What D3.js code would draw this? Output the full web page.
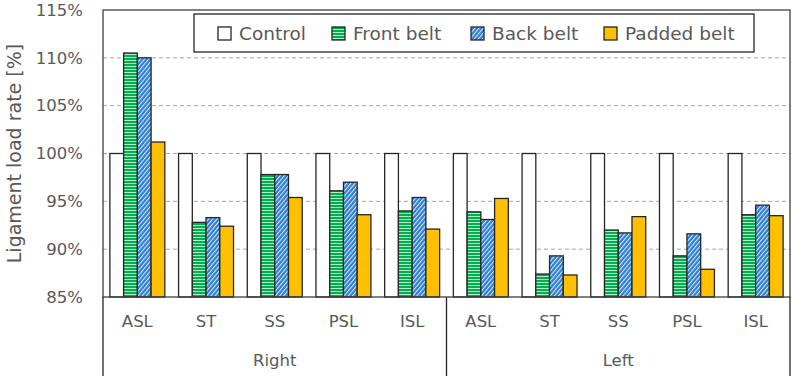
<!DOCTYPE html>
<html>
<head>
<meta charset="utf-8">
<script src="https://cdn.jsdelivr.net/npm/d3@7"></script>
<style>
  body { margin: 0; background: #fff; }
  text { font-family: "DejaVu Sans", sans-serif; fill: #595959; }
</style>
</head>
<body>
<svg id="chart"></svg>
<script>
// data
const sides = ["Right", "Left"];
const ligaments = ["ASL", "ST", "SS", "PSL", "ISL"];
const seriesNames = ["Control", "Front belt", "Back belt", "Padded belt"];
const control    = [100, 100, 100, 100, 100, 100, 100, 100, 100, 100];
const frontBelt  = [110.5, 92.8, 97.8, 96.1, 94.0, 93.9, 87.4, 92.0, 89.3, 93.6];
const backBelt   = [110.0, 93.3, 97.8, 97.0, 95.4, 93.1, 89.3, 91.7, 91.6, 94.6];
const paddedBelt = [101.2, 92.4, 95.4, 93.6, 92.1, 95.3, 87.3, 93.4, 87.9, 93.5];
const yTicks = [85, 90, 95, 100, 105, 110, 115];

const seriesValues = [control, frontBelt, backBelt, paddedBelt];
const groups = [];
sides.forEach(s => ligaments.forEach(l => groups.push({side: s, lig: l, key: s + "-" + l})));
groups.forEach((g, i) => { g.values = seriesValues.map(v => v[i]); });

const fills = ["#ffffff", "url(#pat-front)", "url(#pat-back)", "#FFC000"];

const W = 793, H = 376;
const margin = {top: 10, right: 3, bottom: 79, left: 103};
const width = W - margin.left - margin.right;
const height = H - margin.top - margin.bottom;

const svg = d3.select("#chart").attr("width", W).attr("height", H);

// patterns
const defs = svg.append("defs");
const pf = defs.append("pattern").attr("id", "pat-front")
  .attr("patternUnits", "userSpaceOnUse").attr("width", 6).attr("height", 3);
pf.append("rect").attr("width", 6).attr("height", 3).attr("fill", "#00B050");
pf.append("rect").attr("y", 2).attr("width", 6).attr("height", 1).attr("fill", "#b6ecc6");

const pb = defs.append("pattern").attr("id", "pat-back")
  .attr("patternUnits", "userSpaceOnUse").attr("width", 3.2).attr("height", 10)
  .attr("patternTransform", "rotate(40)");
pb.append("rect").attr("width", 3.2).attr("height", 10).attr("fill", "#2f7fd3");
pb.append("rect").attr("width", 1).attr("height", 10).attr("fill", "#d9ecff");

const chart = svg.append("g").attr("transform", `translate(${margin.left},${margin.top})`);

// scales
const x0 = d3.scaleBand().domain(groups.map(d => d.key)).range([0, width])
  .paddingInner(0.2).paddingOuter(0.1);
const x1 = d3.scaleBand().domain(seriesNames).range([0, x0.bandwidth()]);
const y = d3.scaleLinear().domain([85, 115]).range([height, 0]);

// grid
chart.append("g").selectAll("line")
  .data(yTicks.filter(t => t > 85 && t < 115))
  .join("line")
  .attr("x1", 0).attr("x2", width)
  .attr("y1", d => y(d)).attr("y2", d => y(d))
  .attr("stroke", "#a6a6a6").attr("stroke-width", 1)
  .attr("stroke-dasharray", "4,3");

// y axis labels
const yAxis = d3.axisLeft(y).tickValues(yTicks).tickSize(0).tickPadding(20)
  .tickFormat(d => d + "%");
chart.append("g").call(yAxis)
  .call(g => g.select(".domain").remove())
  .call(g => g.selectAll("text").style("font-size", "16.5px").attr("fill", "#595959")
    .style("font-family", '"DejaVu Sans", sans-serif'));

// bars
const grp = chart.selectAll(".grp").data(groups).join("g")
  .attr("class", "grp")
  .attr("transform", d => `translate(${x0(d.key)},0)`);
grp.selectAll("rect")
  .data(d => d.values.map((v, i) => ({name: seriesNames[i], value: v, i})))
  .join("rect")
  .attr("x", d => x1(d.name))
  .attr("width", x1.bandwidth())
  .attr("y", d => y(d.value))
  .attr("height", d => height - y(d.value))
  .attr("fill", d => fills[d.i])
  .attr("stroke", "#262626").attr("stroke-width", 1.3);

// frame
chart.append("rect").attr("width", width).attr("height", height)
  .attr("fill", "none").attr("stroke", "#404040").attr("stroke-width", 1.3);

// category axis below
const step = x0.step();
const sideX = [0, step * 5, width];
chart.append("g").selectAll("line").data(sideX).join("line")
  .attr("x1", d => d).attr("x2", d => d)
  .attr("y1", height).attr("y2", H - margin.top)
  .attr("stroke", "#262626").attr("stroke-width", 1.3);

chart.append("g").selectAll("text").data(groups).join("text")
  .attr("x", d => x0(d.key) + x0.bandwidth() / 2)
  .attr("y", height + 30)
  .attr("text-anchor", "middle")
  .style("font-size", "16.5px")
  .text(d => d.lig);

chart.append("g").selectAll("text").data(sides).join("text")
  .attr("x", (d, i) => (sideX[i] + sideX[i + 1]) / 2)
  .attr("y", height + 69)
  .attr("text-anchor", "middle")
  .style("font-size", "16.5px")
  .text(d => d);

// y title
svg.append("text")
  .attr("transform", `translate(21,${margin.top + height / 2}) rotate(-90)`)
  .attr("text-anchor", "middle")
  .style("font-size", "19px")
  .text("Ligament load rate [%]");

// legend
const legend = svg.append("g").attr("transform", "translate(194,14)");
legend.append("rect").attr("width", 560).attr("height", 38)
  .attr("fill", "#fff").attr("stroke", "#262626").attr("stroke-width", 1.3);
const legX = [24, 138, 277, 410];
const items = legend.selectAll(".item").data(seriesNames).join("g")
  .attr("class", "item")
  .attr("transform", (d, i) => `translate(${legX[i]},13)`);
items.append("rect").attr("width", 13).attr("height", 13)
  .attr("fill", (d, i) => fills[i])
  .attr("stroke", "#262626").attr("stroke-width", 1.3);
items.append("text").attr("x", 21).attr("y", 12.5)
  .style("font-size", "18.5px")
  .text(d => d);
</script>
</body>
</html>
